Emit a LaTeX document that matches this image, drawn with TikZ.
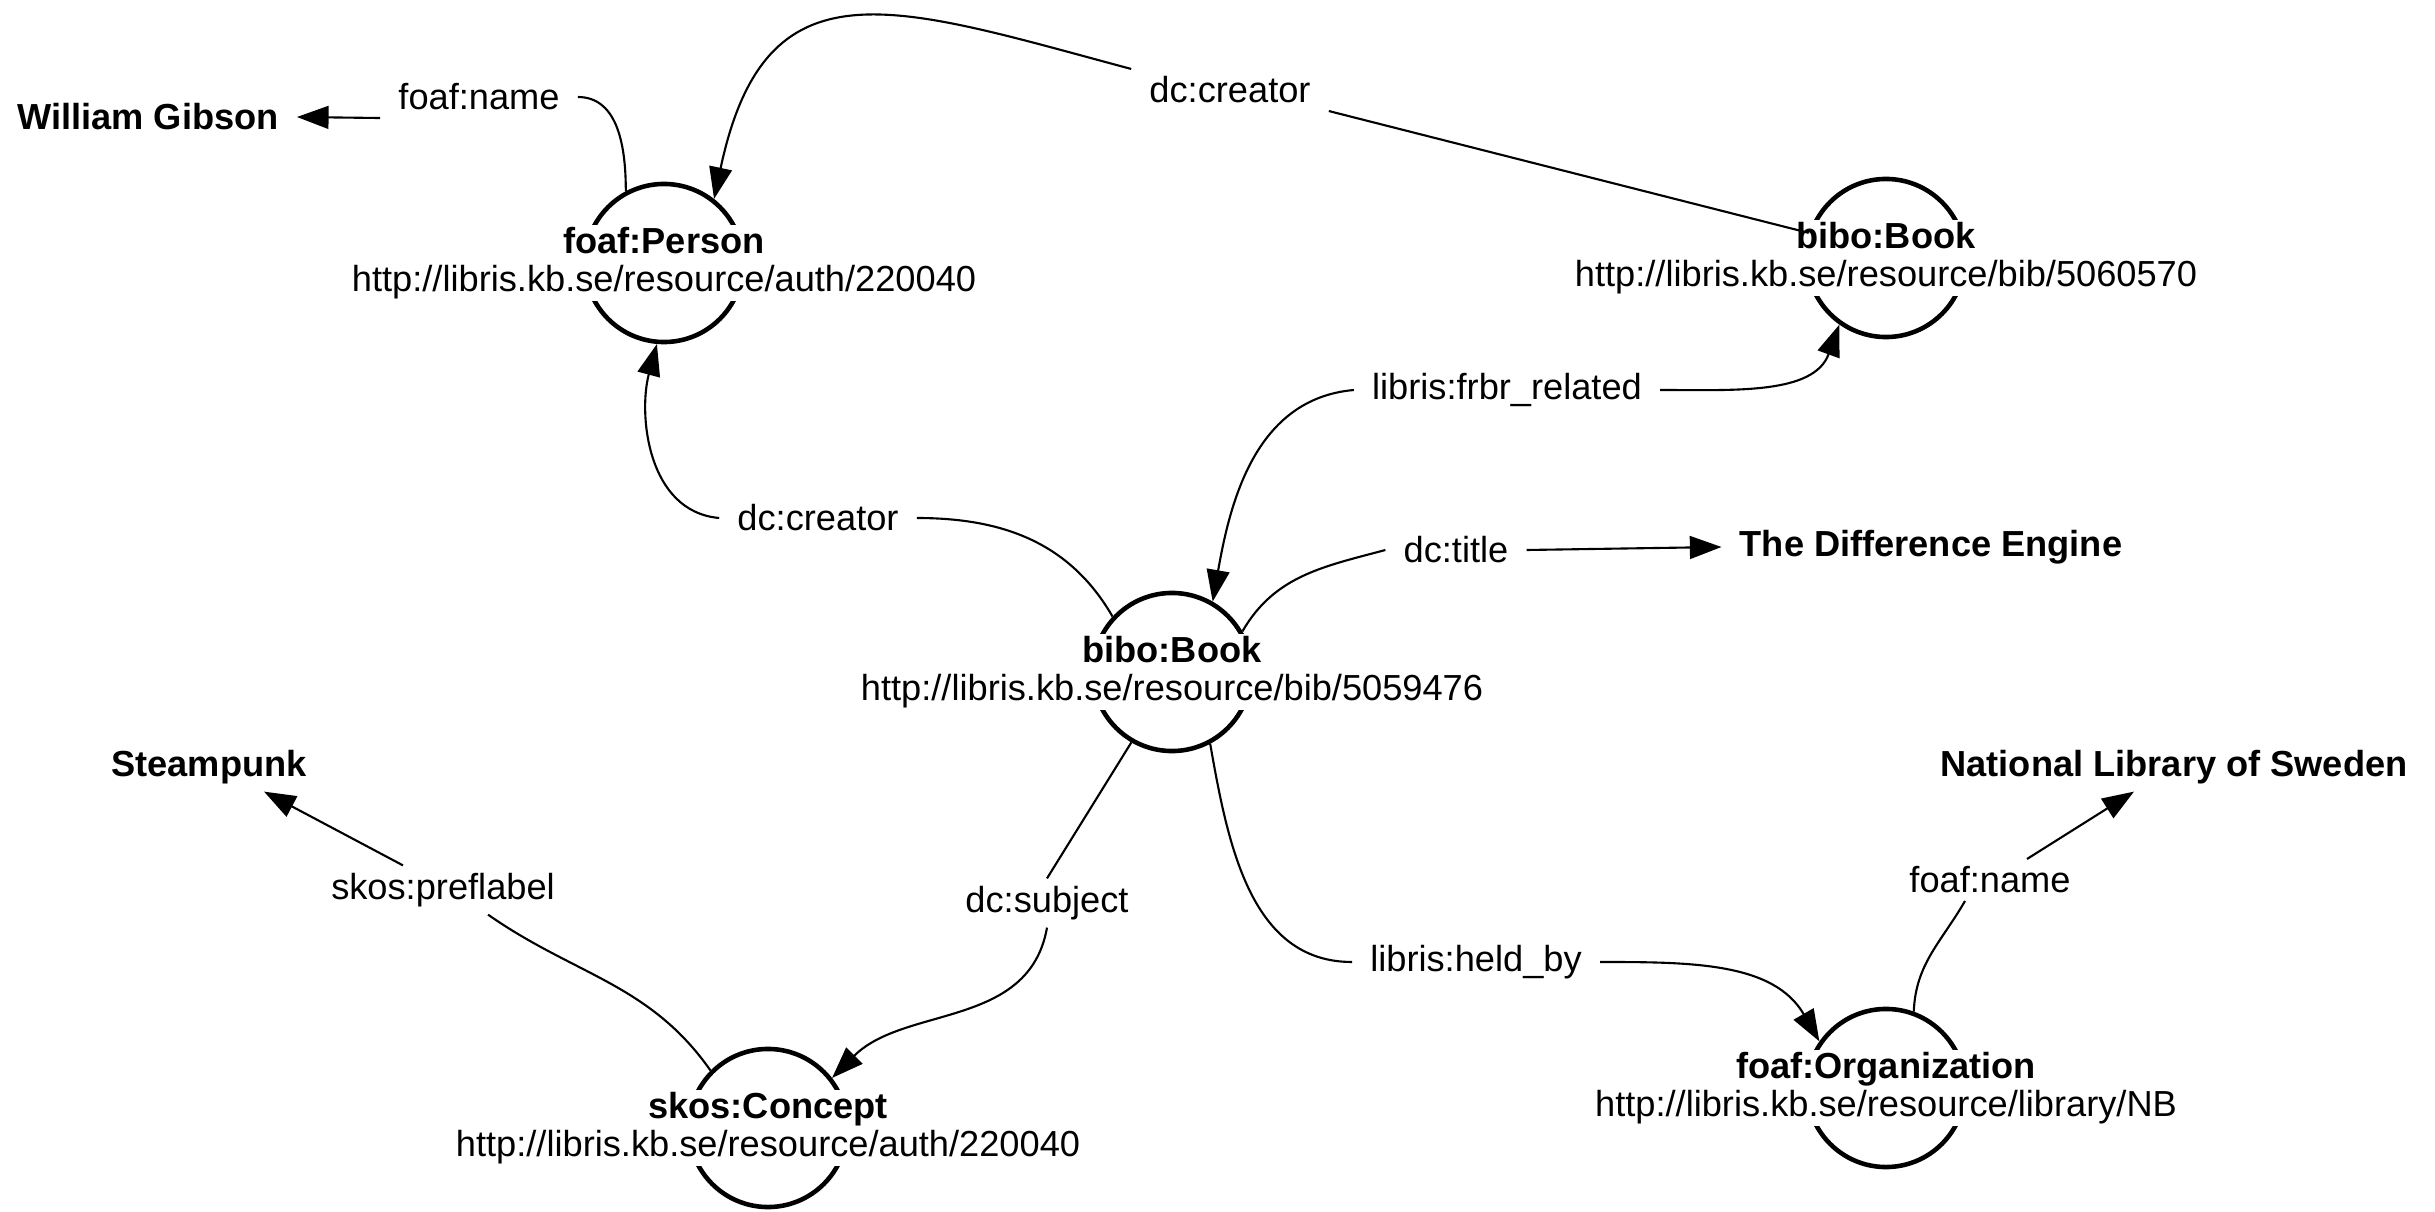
\documentclass[tikz,border=0pt]{standalone}
\usepackage{fontspec}
\setmainfont{Liberation Sans}
\usepackage{tikz}
\usetikzlibrary{arrows.meta}
\tikzset{
  res/.style={circle, draw, line width=1.3pt, minimum size=1.58cm},
  restext/.style={fill=white, align=center, inner sep=0.5pt, font=\fontsize{10.3}{10.8}\selectfont},
  prop/.style={inner xsep=5pt, inner ysep=2pt, font=\fontsize{10.3}{12}\selectfont},
  lit/.style={inner xsep=5pt, inner ysep=2pt, font=\fontsize{10.3}{12}\selectfont\bfseries},
  link/.style={line width=0.6pt},
  linkto/.style={link, -{Triangle[length=9pt,width=6.5pt]}}
}

\begin{document}
\begin{tikzpicture}[x=0.01cm, y=0.01cm]
  \useasboundingbox (0,0) rectangle (2435,1211);

  % resources
  \node[res] (person)  at (664, 948) {};
  \node[res] (book2)   at (1886, 953) {};
  \node[res] (book)    at (1172, 539) {};
  \node[res] (concept) at (768, 83) {};
  \node[res] (org)     at (1886, 123) {};

  % literals
  \node[lit] (gibson) at (148, 1094) {William Gibson};
  \node[lit] (engine) at (1931, 664) {The Difference Engine};
  \node[lit] (steam)  at (209, 444) {Steampunk};
  \node[lit] (kb)     at (2174, 444) {National Library of Sweden};

  % properties
  \node[prop] (pname1)    at (479, 1114) {foaf:name};
  \node[prop] (pcreator1) at (1230, 1121) {dc:creator};
  \node[prop] (pfrbr)     at (1507, 821) {libris:frbr\_related};
  \node[prop] (pcreator2) at (818, 693) {dc:creator};
  \node[prop] (ptitle)    at (1456, 661) {dc:title};
  \node[prop] (psubject)  at (1047, 308) {dc:subject};
  \node[prop] (pheld)     at (1476, 249) {libris:held\_by};
  \node[prop] (ppref)     at (443, 321) {skos:preflabel};
  \node[prop] (pname2)    at (1990, 331) {foaf:name};

  % links
  \draw[link] (person.118) to[out=90, in=0] (pname1.east);
  \draw[linkto] (pname1.south west) -- (gibson.east);

  \draw[linkto] (pcreator1.north west) to[out=165, in=78, looseness=1.45] (person.52);

  \draw[linkto] (pfrbr.west) to[out=185, in=80] (book.60);
  \draw[linkto] (pfrbr.east) to[out=0, in=250] (book2.235);

  \draw[link] (book.137) to[out=120, in=0] (pcreator2.east);
  \draw[linkto] (pcreator2.west) to[out=175, in=255] (person.-95);

  \draw[link] (book.30) to[out=60, in=195] (ptitle.west);
  \draw[linkto] (ptitle.east) -- (engine.west);

  \draw[link] (book.-120) -- (psubject.north);
  \draw[linkto] (psubject.south) to[out=-100, in=45] (concept.38);

  \draw[link] (book.-62) to[out=-80, in=180] (pheld.west);
  \draw[linkto] (pheld.east) to[out=0, in=120] (org.145);

  \draw[link] (concept.135) to[out=125, in=-35] ([xshift=0.45cm]ppref.south);
  \draw[linkto] ([xshift=-0.4cm]ppref.north) -- ([xshift=0.55cm]steam.south);

  \draw[link] (org.70) to[out=88, in=-120] ([xshift=-0.25cm]pname2.south);
  \draw[linkto] ([xshift=0.37cm]pname2.north) -- ([xshift=-0.4cm]kb.south);

  % resource texts
  \node[restext] (persontxt) at (person) {\textbf{foaf:Person}\\http://libris.kb.se/resource/auth/220040};
  \node[restext] (book2txt) at (book2) {\textbf{bibo:Book}\\http://libris.kb.se/resource/bib/5060570};
  \node[restext] (booktxt) at (book) {\textbf{bibo:Book}\\http://libris.kb.se/resource/bib/5059476};
  \node[restext] (concepttxt) at (concept) {\textbf{skos:Concept}\\http://libris.kb.se/resource/auth/220040};
  \node[restext] (orgtxt) at (org) {\textbf{foaf:Organization}\\http://libris.kb.se/resource/library/NB};

  \draw[link] (book2.162) -- (pcreator1.south east);
\end{tikzpicture}
\end{document}
